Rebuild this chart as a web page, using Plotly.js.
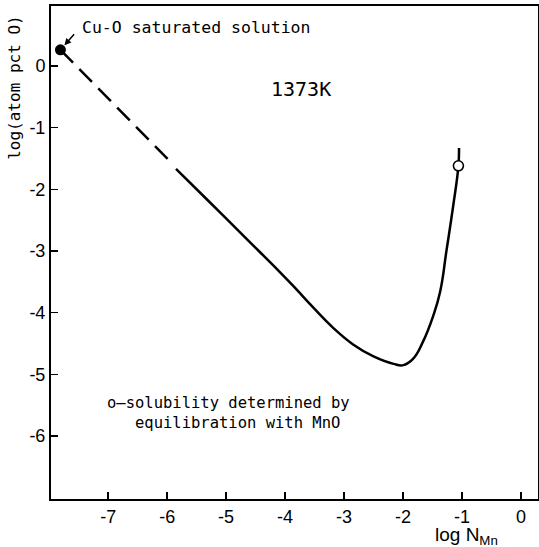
<!DOCTYPE html>
<html>
<head>
<meta charset="utf-8">
<script src="https://cdn.plot.ly/plotly-3.0.1.min.js"></script>
<style>html,body{margin:0;padding:0;background:#fff;}</style>
</head>
<body>
<div id="chart" style="width:539px;height:547px;"></div>
<script>
// Data
var dashX = [-7.81, -5.92];
var dashY = [0.26, -1.58];
var curveX = [-5.85, -5.32, -4.70, -4.08, -3.83, -3.52, -3.18, -2.84, -2.50, -2.16, -1.99, -1.83, -1.66, -1.49, -1.37, -1.26, -1.15, -1.06, -1.05];
var curveY = [-1.67, -2.17, -2.76, -3.35, -3.60, -3.92, -4.25, -4.52, -4.71, -4.83, -4.85, -4.75, -4.47, -4.06, -3.66, -2.98, -2.28, -1.62, -1.33];
var satX = [-7.81];
var satY = [0.26];
var mnoX = [-1.06];
var mnoY = [-1.62];
var xTicks = [-7, -6, -5, -4, -3, -2, -1, 0];
var xTickText = ["-7", "-6", "-5", "-4", "-3", "-2", "-1", "0"];
var yTicks = [0, -1, -2, -3, -4, -5, -6];
var yTickText = ["0", "-1", "-2", "-3", "-4", "-5", "-6"];

var mono = "DejaVu Sans Mono, monospace";
var sans = "Liberation Sans, Arial, sans-serif";

var traces = [
  {x: dashX, y: dashY, mode: "lines", line: {color: "#000", width: 2.5, dash: "18px,9px"}, hoverinfo: "skip"},
  {x: curveX, y: curveY, mode: "lines", line: {color: "#000", width: 2.5, shape: "spline", smoothing: 1.3}, hoverinfo: "skip"},
  {x: satX, y: satY, mode: "markers", marker: {color: "#000", size: 11, symbol: "circle"}},
  {x: mnoX, y: mnoY, mode: "markers", marker: {color: "#fff", size: 10, symbol: "circle", line: {color: "#000", width: 1.6}}}
];

var layout = {
  width: 539, height: 547,
  margin: {l: 51, r: 1, t: 6, b: 48},
  paper_bgcolor: "#fff", plot_bgcolor: "#fff",
  showlegend: false,
  xaxis: {
    range: [-7.97, 0.29], tickvals: xTicks, ticktext: xTickText,
    ticks: "inside", ticklen: 7, tickwidth: 1.5, tickcolor: "#000",
    showline: true, linewidth: 2, linecolor: "#000", mirror: true,
    showgrid: false, zeroline: false,
    tickfont: {family: sans, size: 18, color: "#000"}
  },
  yaxis: {
    range: [-7.02, 0.97], tickvals: yTicks, ticktext: yTickText,
    ticks: "inside", ticklen: 7, tickwidth: 1.5, tickcolor: "#000",
    showline: true, linewidth: 2, linecolor: "#000", mirror: true,
    showgrid: false, zeroline: false,
    tickfont: {family: sans, size: 18, color: "#000"}
  },
  annotations: [
    {xref: "x", yref: "y", x: -7.47, y: 0.62, xanchor: "left", yanchor: "middle", showarrow: false,
     text: "Cu-O saturated solution", font: {family: mono, size: 16.5, color: "#000"}},
    {xref: "x", yref: "y", x: satX[0], y: satY[0], ax: 15, ay: -17, text: "", showarrow: true,
     arrowhead: 2, arrowsize: 0.9, arrowwidth: 1.5, arrowcolor: "#000", standoff: 6},
    {xref: "x", yref: "y", x: -3.73, y: -0.37, xanchor: "center", yanchor: "middle", showarrow: false,
     text: "1373K", font: {family: mono, size: 20, color: "#000"}},
    {xref: "x", yref: "y", x: -7.05, y: -5.46, xanchor: "left", yanchor: "middle", showarrow: false,
     text: "o\u2014solubility determined by", font: {family: mono, size: 15.5, color: "#000"}},
    {xref: "x", yref: "y", x: -6.58, y: -5.79, xanchor: "left", yanchor: "middle", showarrow: false,
     text: "equilibration with MnO", font: {family: mono, size: 15.5, color: "#000"}},
    {xref: "x", yref: "paper", x: -1.49, y: -0.076, xanchor: "left", yanchor: "middle", showarrow: false,
     text: "log N<sub>Mn</sub>", font: {family: sans, size: 19, color: "#000"}},
    {xref: "paper", yref: "y", x: -0.074, y: -0.34, xanchor: "center", yanchor: "middle", showarrow: false,
     textangle: -90, text: "log(atom pct O)", font: {family: mono, size: 16, color: "#000"}}
  ]
};

Plotly.newPlot("chart", traces, layout, {displayModeBar: false, staticPlot: true});
</script>
</body>
</html>
